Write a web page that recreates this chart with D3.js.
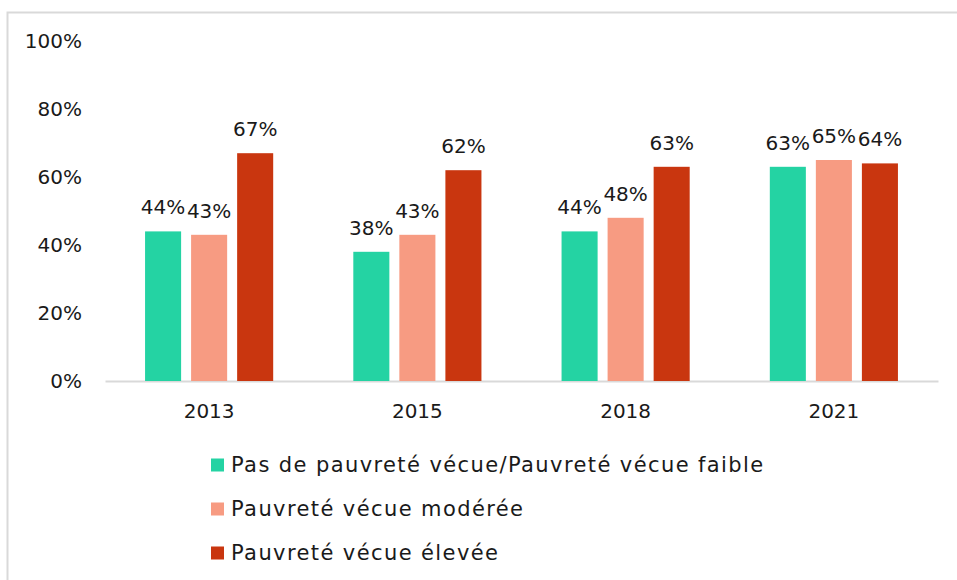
<!DOCTYPE html>
<html>
<head>
<meta charset="utf-8">
<script src="https://cdn.jsdelivr.net/npm/d3@7"></script>
<style>
  body { margin: 0; background: #fff; }
  text { font-family: "DejaVu Sans", sans-serif; fill: #1a1a1a; }
</style>
</head>
<body>
<div id="chart"></div>
<script>
/* Pauvreté vécue par année - grouped bars */

const years = ["2013", "2015", "2018", "2021"];
const series = [
    "Pas de pauvreté vécue/Pauvreté vécue faible",
    "Pauvreté vécue modérée",
    "Pauvreté vécue élevée"
];
const lowValues = [44, 38, 44, 63];
const moderateValues = [43, 43, 48, 65];
const highValues = [67, 62, 63, 64];
const yTicks = [0, 20, 40, 60, 80, 100];
const colors = ["#24d3a3", "#f79b82", "#c9360f"];

const allValues = [lowValues, moderateValues, highValues];

const width = 957,
      height = 580,
      margin = { top: 41, right: 19, bottom: 199, left: 105 };

const font = "'DejaVu Sans', sans-serif";

let svg = d3.select("#chart")
    .append("svg")
    .attr("width", width)
    .attr("height", height);

// chart border (only top and left show in frame)
svg.append("rect")
    .attr("x", 7.5)
    .attr("y", 12.5)
    .attr("width", width + 20)
    .attr("height", height + 20)
    .attr("fill", "none")
    .attr("stroke", "#d9d9d9")
    .attr("stroke-width", 2);

let x = d3.scaleBand()
    .domain(years)
    .range([margin.left, width - margin.right]);

let xInner = d3.scaleBand()
    .domain(series)
    .range([0, x.bandwidth()])
    .paddingInner(0.217)
    .paddingOuter(0.87);

let y = d3.scaleLinear()
    .domain([0, 100])
    .range([height - margin.bottom, margin.top]);

/* y axis labels, no line */
let yAxis = svg.append("g")
    .attr("transform", `translate(82,0)`)
    .call(d3.axisLeft(y).tickValues(yTicks).tickSize(0).tickPadding(0).tickFormat(d => d + "%"));
yAxis.select(".domain").remove();
yAxis.selectAll("text")
    .style("font-size", "20px")
    .style("font-family", font)
    .attr("fill", "#1a1a1a");

/* x axis */
let xAxis = svg.append("g")
    .attr("transform", `translate(0,${y(0)})`)
    .call(d3.axisBottom(x).tickSize(0).tickPadding(23));
xAxis.select(".domain")
    .attr("stroke", "#d9d9d9")
    .attr("stroke-width", 2);
xAxis.selectAll("text")
    .style("font-size", "20px")
    .style("font-family", font)
    .attr("fill", "#1a1a1a");

/* bars */
let rows = [];
years.forEach((yr, i) => {
    series.forEach((s, j) => {
        rows.push({ year: yr, series: s, idx: j, value: allValues[j][i] });
    });
});

let bar = svg.selectAll(".bar")
    .data(rows)
    .join("g")
    .attr("class", "bar");

bar.append("rect")
    .attr("x", d => x(d.year) + xInner(d.series))
    .attr("width", xInner.bandwidth())
    .attr("y", d => y(d.value))
    .attr("height", d => y(0) - y(d.value))
    .attr("fill", d => colors[d.idx]);

bar.append("text")
    .text(d => d.value + "%")
    .attr("x", d => x(d.year) + xInner(d.series) + xInner.bandwidth() / 2)
    .attr("y", d => y(d.value) - 17)
    .attr("text-anchor", "middle")
    .style("font-size", "20px");

/* legend */
let legend = svg.append("g")
    .selectAll("g")
    .data(series)
    .join("g")
    .attr("transform", (d, i) => `translate(211,${465 + i * 44})`);

legend.append("rect")
    .attr("x", 0)
    .attr("y", -6.5)
    .attr("width", 13)
    .attr("height", 13)
    .attr("fill", (d, i) => colors[i]);

legend.append("text")
    .attr("x", 20)
    .attr("y", 0)
    .attr("dy", "0.35em")
    .style("font-size", "21px")
    .style("letter-spacing", "1.4px")
    .text(d => d);
</script>
</body>
</html>
